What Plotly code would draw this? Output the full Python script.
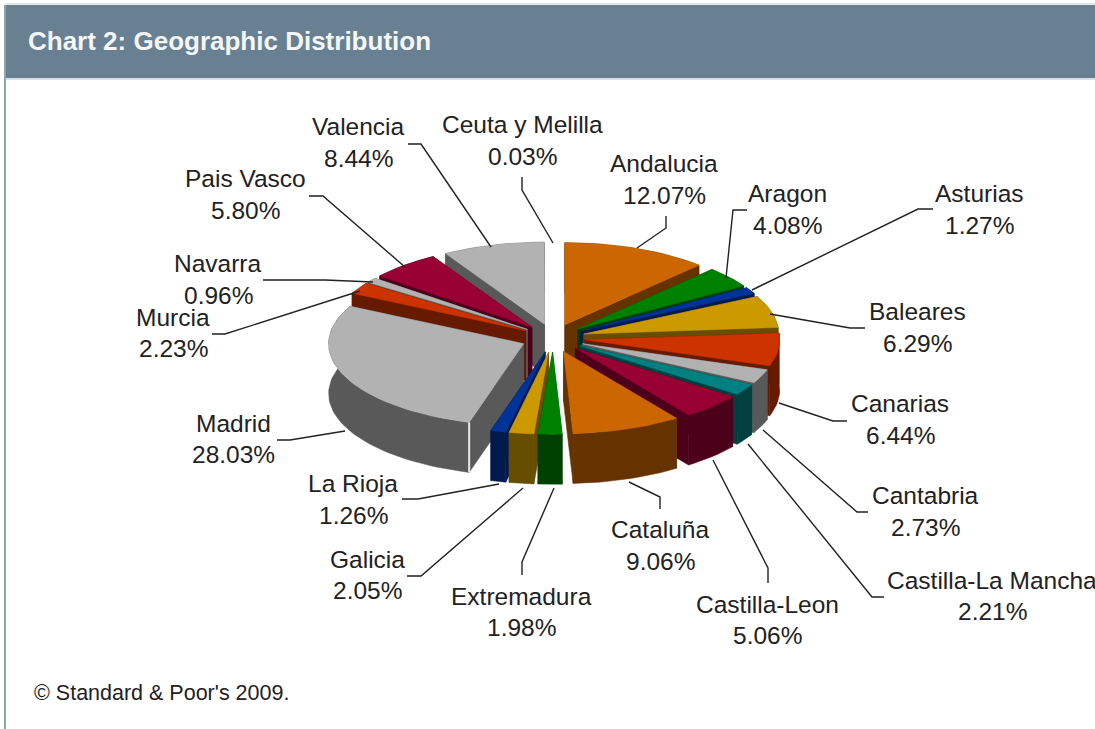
import math
import plotly.graph_objects as go

regions = ["Andalucia", "Aragon", "Asturias", "Baleares", "Canarias", "Cantabria",
           "Castilla-La Mancha", "Castilla-Leon", "Cataluña", "Extremadura", "Galicia",
           "La Rioja", "Madrid", "Murcia", "Navarra", "Pais Vasco", "Valencia", "Ceuta y Melilla"]
shares = [12.07, 4.08, 1.27, 6.29, 6.44, 2.73, 2.21, 5.06, 9.06, 1.98, 2.05, 1.26,
          28.03, 2.23, 0.96, 5.80, 8.44, 0.03]

top_colors = ["#cc6600", "#008000", "#003399", "#cc9900", "#cc3300", "#b2b2b2", "#008080",
              "#990033", "#cc6600", "#008000", "#cc9900", "#003399", "#b2b2b2", "#cc3300",
              "#b2b2b2", "#990033", "#b2b2b2", "#ffffff"]
side_colors = ["#663300", "#004000", "#001a4d", "#664d00", "#661a00", "#595959", "#004040",
               "#4d0019", "#663300", "#004000", "#664d00", "#001a4d", "#595959", "#661a00",
               "#595959", "#4d0019", "#595959", "#ffffff"]

# Pie projection
CX, CY, RX, RY, DEPTH = 553, 338, 195, 82, 50
PULL_X, PULL_Y = 32, 14.3

# Label placement: name x, name y, percent y
label_pos = {
    "Andalucia": (664, 163, 195), "Aragon": (787, 193, 225), "Asturias": (979, 193, 225),
    "Baleares": (917, 311, 343), "Canarias": (900, 403, 435), "Cantabria": (925, 495, 527),
    "Castilla-La Mancha": (992, 580, 611), "Castilla-Leon": (767, 604, 635),
    "Cataluña": (660, 529, 561), "Extremadura": (521, 596, 627), "Galicia": (367, 559, 590),
    "La Rioja": (353, 483, 515), "Madrid": (233, 423, 454), "Murcia": (173, 317, 348),
    "Navarra": (218, 263, 295), "Pais Vasco": (245, 178, 210), "Valencia": (358, 126, 158),
    "Ceuta y Melilla": (522, 124, 156),
}
leaders = {
    "Andalucia": [(637, 248), (666, 228), (666, 216)],
    "Aragon": [(726, 278), (733, 210), (747, 210)],
    "Asturias": [(752, 290), (918, 209), (933, 209)],
    "Baleares": [(770, 314), (850, 328), (865, 328)],
    "Canarias": [(779, 403), (833, 421), (847, 421)],
    "Cantabria": [(763, 430), (857, 512), (868, 512)],
    "Castilla-La Mancha": [(748, 444), (872, 597), (884, 597)],
    "Castilla-Leon": [(713, 460), (768, 568), (768, 583)],
    "Cataluña": [(629, 482), (660, 497), (660, 509)],
    "Extremadura": [(554, 488), (522, 562), (522, 575)],
    "Galicia": [(523, 488), (421, 576), (407, 576)],
    "La Rioja": [(499, 484), (418, 499), (402, 499)],
    "Madrid": [(345, 431), (290, 440), (277, 440)],
    "Murcia": [(360, 291), (225, 334), (212, 334)],
    "Navarra": [(373, 282), (325, 280), (263, 280)],
    "Pais Vasco": [(405, 267), (323, 196), (309, 196)],
    "Valencia": [(491, 247), (421, 144), (408, 144)],
    "Ceuta y Melilla": [(553, 243), (522, 190), (522, 177)],
}

total = sum(shares)
fig = go.Figure()


def add_poly(xs, ys, color, name):
    fig.add_trace(go.Scatter(x=xs + xs[:1], y=ys + ys[:1], mode="lines", fill="toself",
                             fillcolor=color, line=dict(color=color, width=0.5),
                             name=name, hoverinfo="name", showlegend=False))


slices = []
cum = 0.0
for name, val, tc, sc in zip(regions, shares, top_colors, side_colors):
    a0 = cum / total * 2 * math.pi
    cum += val
    a1 = cum / total * 2 * math.pi
    slices.append((name, val, tc, sc, a0, a1))

# paint from the back of the pie to the front
for name, val, tc, sc, a0, a1 in sorted(slices, key=lambda s: -math.cos((s[4] + s[5]) / 2)):
    mid = (a0 + a1) / 2
    ax = CX + PULL_X * math.sin(mid)
    ay = CY - PULL_Y * math.cos(mid)
    n = max(2, int((a1 - a0) / math.radians(2)) + 1)
    ts = [a0 + (a1 - a0) * i / n for i in range(n + 1)]
    ex = [ax + RX * math.sin(t) for t in ts]
    ey = [ay - RY * math.cos(t) for t in ts]
    # side walls
    add_poly([ax, ex[0], ex[0], ax], [ay, ey[0], ey[0] + DEPTH, ay + DEPTH], sc, name)
    add_poly([ax, ex[-1], ex[-1], ax], [ay, ey[-1], ey[-1] + DEPTH, ay + DEPTH], sc, name)
    add_poly(ex + ex[::-1], ey + [y + DEPTH for y in ey[::-1]], sc, name)
    # top face
    add_poly([ax] + ex, [ay] + ey, tc, name)
    if name == "Madrid":
        fig.add_trace(go.Scatter(x=[ex[0], ex[0]], y=[ey[0], ey[0] + DEPTH], mode="lines",
                                 line=dict(color="#e8e8e8", width=2), hoverinfo="skip",
                                 showlegend=False))

LABEL_FONT = dict(family="Liberation Sans", size=24.5, color="#222222")
annotations = []
for name, val in zip(regions, shares):
    x, y1, y2 = label_pos[name]
    annotations.append(dict(x=x, y=y1, text=name, showarrow=False, xanchor="center",
                            yanchor="middle", font=LABEL_FONT))
    annotations.append(dict(x=x, y=y2, text=f"{val:.2f}%", showarrow=False, xanchor="center",
                            yanchor="middle", font=LABEL_FONT))
    pts = leaders[name]
    fig.add_trace(go.Scatter(x=[p[0] for p in pts], y=[p[1] for p in pts], mode="lines",
                             line=dict(color="#222222", width=1.4), hoverinfo="skip",
                             showlegend=False))

annotations.append(dict(x=26, y=41, text="<b>Chart 2: Geographic Distribution</b>", showarrow=False,
                        xanchor="left", yanchor="middle",
                        font=dict(family="Liberation Sans", size=26, color="#f4f6f7")))
annotations.append(dict(x=32, y=693, text="© Standard &amp; Poor's 2009.", showarrow=False,
                        xanchor="left", yanchor="middle",
                        font=dict(family="Liberation Sans", size=21.5, color="#222222")))

shapes = [
    dict(type="rect", x0=5, x1=1095, y0=5, y1=78, fillcolor="#688092",
         line=dict(width=0), layer="below"),
    dict(type="line", x0=5, x1=5, y0=5, y1=729, line=dict(color="#8fa3b1", width=2), layer="below"),
    dict(type="line", x0=5, x1=1095, y0=4, y1=4, line=dict(color="#c3ced6", width=1), layer="below"),
    dict(type="line", x0=5, x1=1095, y0=79, y1=79, line=dict(color="#b5c3cd", width=1), layer="below"),
]

fig.update_layout(
    width=1095, height=729, autosize=False,
    margin=dict(l=0, r=0, t=0, b=0),
    paper_bgcolor="white", plot_bgcolor="white",
    xaxis=dict(range=[0, 1095], visible=False, fixedrange=True),
    yaxis=dict(range=[729, 0], visible=False, fixedrange=True),
    annotations=annotations, shapes=shapes, showlegend=False,
)
fig.write_html("out.html", config={"displayModeBar": False},
               post_script="document.body.style.margin='0';document.body.style.overflow='hidden';")
